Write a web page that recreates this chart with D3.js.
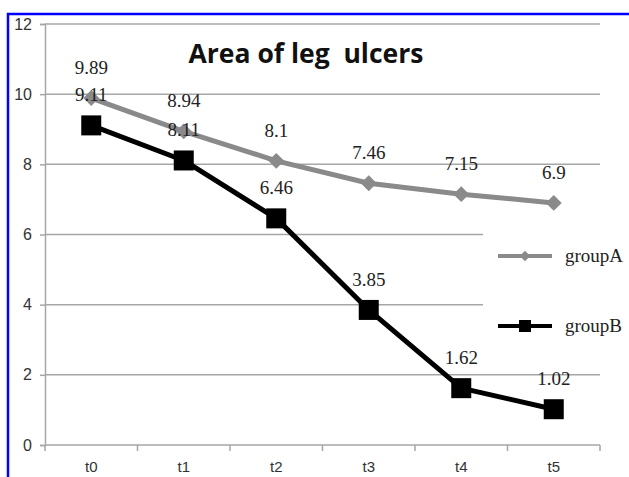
<!DOCTYPE html>
<html>
<head>
<meta charset="utf-8">
<script src="https://cdn.jsdelivr.net/npm/d3@7"></script>
<style>
  html, body { margin: 0; padding: 0; background: #fff; }
  svg { display: block; }
</style>
</head>
<body>
<svg id="chart" width="629" height="477"></svg>
<script>
const categories = ["t0", "t1", "t2", "t3", "t4", "t5"];
const groupA = [9.89, 8.94, 8.1, 7.46, 7.15, 6.9];
const groupB = [9.11, 8.11, 6.46, 3.85, 1.62, 1.02];
const yTicks = [0, 2, 4, 6, 8, 10, 12];
const seriesNames = ["groupA", "groupB"];
const titleText = "Area of leg  ulcers";

const svg = d3.select("#chart");
const W = 629, H = 477;

// frame
svg.append("rect")
  .attr("x", 8).attr("y", 14)
  .attr("width", W + 20).attr("height", H + 20)
  .attr("fill", "#fff").attr("stroke", "#0000ff").attr("stroke-width", 2.5);

const plot = { left: 45, right: 600, top: 24, bottom: 445 };

const x = d3.scaleBand().domain(categories).range([plot.left, plot.right]);
const y = d3.scaleLinear().domain([0, 12]).range([plot.bottom, plot.top]);
const cx = d => x(d) + x.bandwidth() / 2;

// horizontal gridlines
svg.append("g")
  .selectAll("line").data(yTicks.filter(t => t > 0)).join("line")
  .attr("x1", plot.left).attr("x2", plot.right)
  .attr("y1", d => y(d)).attr("y2", d => y(d))
  .attr("stroke", "#a6a6a6").attr("stroke-width", 1.5);

// y axis
const yAxis = svg.append("g")
  .attr("transform", `translate(${plot.left},0)`)
  .call(d3.axisLeft(y).tickValues(yTicks).tickSize(5).tickPadding(8));
yAxis.select(".domain").attr("stroke", "#a6a6a6").attr("stroke-width", 1.5);
yAxis.selectAll(".tick line").attr("stroke", "#a6a6a6").attr("stroke-width", 1.5);
yAxis.selectAll(".tick text")
  .attr("font-family", "Liberation Sans, Arial, sans-serif")
  .attr("font-size", 16).attr("fill", "#333");

// x axis with ticks at category boundaries
const xAxisG = svg.append("g").attr("transform", `translate(0,${plot.bottom})`);
xAxisG.append("line")
  .attr("x1", plot.left).attr("x2", plot.right)
  .attr("stroke", "#a6a6a6").attr("stroke-width", 1.5);
const bounds = categories.map(c => x(c)).concat([x(categories[categories.length - 1]) + x.bandwidth()]);
xAxisG.selectAll("line.tk").data(bounds).join("line")
  .attr("class", "tk")
  .attr("x1", d => d).attr("x2", d => d)
  .attr("y1", 0).attr("y2", 6)
  .attr("stroke", "#a6a6a6").attr("stroke-width", 1.5);
xAxisG.selectAll("text").data(categories).join("text")
  .attr("x", d => cx(d)).attr("y", 27)
  .attr("text-anchor", "middle")
  .attr("font-family", "Liberation Sans, Arial, sans-serif")
  .attr("font-size", 15).attr("fill", "#333")
  .text(d => d);

// legend box (white background hides gridlines behind it)
const legend = svg.append("g");
legend.append("rect")
  .attr("x", 483).attr("y", 215).attr("width", 118).attr("height", 140)
  .attr("fill", "#fff");

// title
svg.append("text")
  .attr("x", 306).attr("y", 63)
  .attr("text-anchor", "middle")
  .attr("font-family", "Open Sans, Lato, sans-serif")
  .attr("font-weight", "bold")
  .attr("font-size", 26.5)
  .attr("fill", "#111")
  .attr("xml:space", "preserve")
  .style("white-space", "pre")
  .text(titleText);

const line = d3.line().x((d, i) => cx(categories[i])).y(d => y(d));

// group A: grey line with diamonds
svg.append("path").datum(groupA)
  .attr("d", line).attr("fill", "none")
  .attr("stroke", "#8a8a8a").attr("stroke-width", 5).attr("stroke-linejoin", "round");
const diamond = d3.symbol().type(d3.symbolDiamond2).size(160);
svg.append("g").selectAll("path").data(groupA).join("path")
  .attr("transform", (d, i) => `translate(${cx(categories[i])},${y(d)})`)
  .attr("d", diamond).attr("fill", "#8a8a8a");

// group B: black line with squares
svg.append("path").datum(groupB)
  .attr("d", line).attr("fill", "none")
  .attr("stroke", "#000").attr("stroke-width", 5).attr("stroke-linejoin", "round");
svg.append("g").selectAll("rect").data(groupB).join("rect")
  .attr("x", (d, i) => cx(categories[i]) - 10).attr("y", d => y(d) - 10)
  .attr("width", 20).attr("height", 20).attr("fill", "#000");

// data labels
const labelFont = "Liberation Serif, Times New Roman, serif";
[groupA, groupB].forEach(series => {
  svg.append("g").selectAll("text").data(series).join("text")
    .attr("x", (d, i) => cx(categories[i]))
    .attr("y", d => y(d) - 24)
    .attr("text-anchor", "middle")
    .attr("font-family", labelFont).attr("font-size", 19).attr("fill", "#222")
    .text(d => d);
});

// legend entries
const legendRows = [
  { name: seriesNames[0], y: 256, color: "#8a8a8a", kind: "diamond" },
  { name: seriesNames[1], y: 326, color: "#000", kind: "square" }
];
legendRows.forEach(r => {
  legend.append("line")
    .attr("x1", 498).attr("x2", 552).attr("y1", r.y).attr("y2", r.y)
    .attr("stroke", r.color).attr("stroke-width", 4);
  if (r.kind === "diamond") {
    legend.append("path")
      .attr("transform", `translate(525,${r.y})`)
      .attr("d", d3.symbol().type(d3.symbolDiamond2).size(70))
      .attr("fill", r.color);
  } else {
    legend.append("rect")
      .attr("x", 519).attr("y", r.y - 6).attr("width", 12).attr("height", 12)
      .attr("fill", r.color);
  }
  legend.append("text")
    .attr("x", 565).attr("y", r.y + 6)
    .attr("font-family", labelFont).attr("font-size", 19).attr("fill", "#222")
    .text(r.name);
});
</script>
</body>
</html>
